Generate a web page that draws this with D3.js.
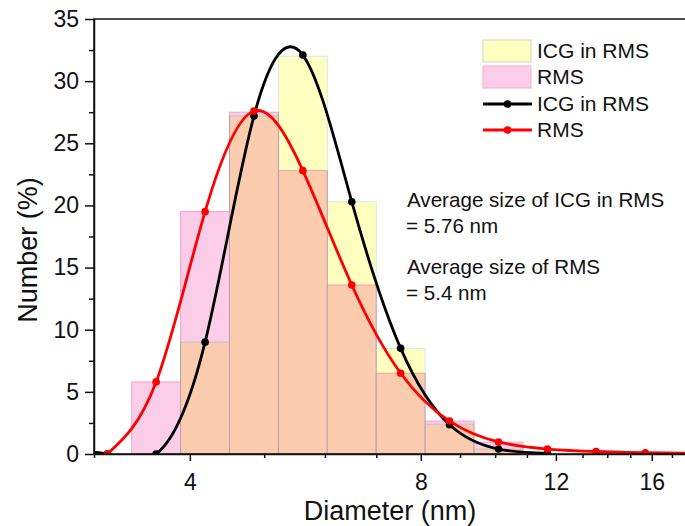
<!DOCTYPE html>
<html>
<head>
<meta charset="utf-8">
<script src="https://cdn.jsdelivr.net/npm/d3@7"></script>
<style>
  body { margin: 0; background: #fff; }
  svg text { font-family: "Liberation Sans", Arial, sans-serif; fill: #111; }
  .axis path, .axis line { stroke: #111; stroke-width: 1.5; }
</style>
</head>
<body>
<div class="wrapper"></div>
<script>
width = 685;
height = 526;

// Size classes (nm), log spaced bins
sizes = [2.696, 3.122, 3.615, 4.187, 4.849, 5.615, 6.503, 7.531, 8.721, 10.10, 11.70, 13.54, 15.69, 18.17];

// Histogram bars (%)
barSizes = [3.615, 4.187, 4.849, 5.615, 6.503, 7.531, 8.721, 10.10];
rmsBars = [5.8, 19.5, 27.5, 22.8, 13.6, 6.5, 2.65, 0.95];
icgBars = [0, 9.0, 27.2, 32.0, 20.3, 8.5, 2.4, 0.4];

// Line series (%)
rmsLineSizes = [3.122, 3.615, 4.187, 4.849, 5.615, 6.503, 7.531, 8.721, 10.10, 11.70, 13.54, 15.69, 18.17];
rmsLine = [0, 5.8, 19.5, 27.6, 22.8, 13.6, 6.5, 2.65, 0.97, 0.4, 0.2, 0.1, 0.05];
icgLineSizes = [2.696, 3.122, 3.615, 4.187, 4.849, 5.615, 6.503, 7.531, 8.721, 10.10, 11.70];
icgLine = [0, 0, 0, 9.0, 27.2, 32.1, 20.3, 8.5, 2.35, 0.4, 0.05];

xMajor = [4, 8, 12, 16];
xMinor = [3, 5, 6, 7, 9, 10, 11, 13, 14, 15, 17];
yMajor = [0, 5, 10, 15, 20, 25, 30, 35];
yMinor = [2.5, 7.5, 12.5, 17.5, 22.5, 27.5, 32.5];

legendItems = ["ICG in RMS", "RMS", "ICG in RMS", "RMS"];
notes = ["Average size of ICG in RMS", "= 5.76 nm", "Average size of RMS", "= 5.4 nm"];

margin = { left: 94, top: 19 };
pw = 597;
ph = 435;

scaleX = d3.scaleLog().domain([3, 18]).range([0, pw]);
scaleY = d3.scaleLinear().domain([0, 35]).range([ph, 0]);

svg = d3.select(".wrapper")
  .append("svg")
  .attr("width", width)
  .attr("height", height);

g = svg.append("g").attr("transform", "translate(" + margin.left + "," + margin.top + ")");

svg.append("defs").append("clipPath").attr("id", "plotclip")
  .append("rect").attr("width", pw).attr("height", ph);

// bin edges from neighbouring size classes (geometric midpoints)
function binEdges(c) {
  var i = sizes.indexOf(c);
  return [Math.sqrt(sizes[i - 1] * c), Math.sqrt(c * sizes[i + 1])];
}

var plot = g.append("g").attr("clip-path", "url(#plotclip)");

// RMS bars (pink)
plot.append("g").selectAll("rect")
  .data(barSizes.map(function (s, i) { return { s: s, v: rmsBars[i] }; }).filter(function (d) { return d.v > 0; }))
  .enter().append("rect")
  .attr("x", function (d) { return scaleX(binEdges(d.s)[0]); })
  .attr("width", function (d) { return scaleX(binEdges(d.s)[1]) - scaleX(binEdges(d.s)[0]); })
  .attr("y", function (d) { return scaleY(d.v); })
  .attr("height", function (d) { return ph - scaleY(d.v); })
  .attr("fill", "#fbcde8")
  .attr("stroke", "#f2a3cc")
  .attr("stroke-width", 1);

// ICG in RMS bars (yellow, multiplied over pink)
plot.append("g").style("mix-blend-mode", "multiply").selectAll("rect")
  .data(barSizes.map(function (s, i) { return { s: s, v: icgBars[i] }; }).filter(function (d) { return d.v > 0; }))
  .enter().append("rect")
  .attr("x", function (d) { return scaleX(binEdges(d.s)[0]); })
  .attr("width", function (d) { return scaleX(binEdges(d.s)[1]) - scaleX(binEdges(d.s)[0]); })
  .attr("y", function (d) { return scaleY(d.v); })
  .attr("height", function (d) { return ph - scaleY(d.v); })
  .attr("fill", "#ffffbf")
  .attr("stroke", "#c8f2e4")
  .attr("stroke-width", 1);

var line = d3.line()
  .x(function (d) { return scaleX(d[0]); })
  .y(function (d) { return scaleY(d[1]); })
  .curve(d3.curveNatural);

function drawSeries(xs, ys, color) {
  var pts = xs.map(function (s, i) { return [s, ys[i]]; });
  plot.append("path")
    .datum(pts)
    .attr("d", line)
    .attr("fill", "none")
    .attr("stroke", color)
    .attr("stroke-width", 2.8);
  plot.append("g").selectAll("circle")
    .data(pts)
    .enter().append("circle")
    .attr("cx", function (d) { return scaleX(d[0]); })
    .attr("cy", function (d) { return scaleY(d[1]); })
    .attr("r", 3.8)
    .attr("fill", color);
}

drawSeries(icgLineSizes, icgLine, "#000");
drawSeries(rmsLineSizes, rmsLine, "#ff0000");

// frame
g.append("rect")
  .attr("width", pw).attr("height", ph)
  .attr("fill", "none").attr("stroke", "#111").attr("stroke-width", 1.5);

// axes
g.append("g").attr("class", "axis")
  .attr("transform", "translate(0," + ph + ")")
  .call(d3.axisBottom(scaleX).tickValues(xMinor).tickSize(4).tickFormat(""))
  .select(".domain").remove();
var xa = g.append("g").attr("class", "axis")
  .attr("transform", "translate(0," + ph + ")")
  .call(d3.axisBottom(scaleX).tickValues(xMajor).tickSize(7).tickSizeOuter(0).tickPadding(13).tickFormat(d3.format("d")));
xa.selectAll("text").style("font-size", "23px");

g.append("g").attr("class", "axis")
  .call(d3.axisLeft(scaleY).tickValues(yMinor).tickSize(5).tickFormat(""))
  .select(".domain").remove();
var ya = g.append("g").attr("class", "axis")
  .call(d3.axisLeft(scaleY).tickValues(yMajor).tickSize(9).tickSizeOuter(0).tickPadding(6));
ya.selectAll("text").style("font-size", "23px");

// axis titles
svg.append("text")
  .attr("x", 390).attr("y", 520)
  .attr("text-anchor", "middle")
  .style("font-size", "27px")
  .text("Diameter (nm)");
svg.append("text")
  .attr("transform", "translate(37,250) rotate(-90)")
  .attr("text-anchor", "middle")
  .style("font-size", "27px")
  .text("Number (%)");

// legend
var lg = svg.append("g").attr("transform", "translate(483,40)");
lg.append("rect").attr("x", 0).attr("y", 0).attr("width", 48).attr("height", 22)
  .attr("fill", "#ffffbf").attr("stroke", "#d9d9c8").attr("stroke-width", 1.2);
lg.append("rect").attr("x", 0).attr("y", 26).attr("width", 48).attr("height", 22)
  .attr("fill", "#fbcde8").attr("stroke", "#f7b8d6").attr("stroke-width", 1.2);
[["#000", 64], ["#ff0000", 90]].forEach(function (d) {
  lg.append("line").attr("x1", 0).attr("x2", 49).attr("y1", d[1]).attr("y2", d[1])
    .attr("stroke", d[0]).attr("stroke-width", 2.8);
  lg.append("circle").attr("cx", 24.5).attr("cy", d[1]).attr("r", 3.8).attr("fill", d[0]);
});
lg.selectAll(".lt")
  .data(legendItems)
  .enter().append("text")
  .attr("x", 54)
  .attr("y", function (d, i) { return 18 + i * 26.3; })
  .style("font-size", "21px")
  .text(function (d) { return d; });

// annotations
svg.selectAll(".note")
  .data(notes)
  .enter().append("text")
  .attr("x", function (d, i) { return i % 2 ? 406 : 407; })
  .attr("y", function (d, i) { return [207, 233, 274, 300][i]; })
  .style("font-size", "20.6px")
  .text(function (d) { return d; });
</script>
</body>
</html>
